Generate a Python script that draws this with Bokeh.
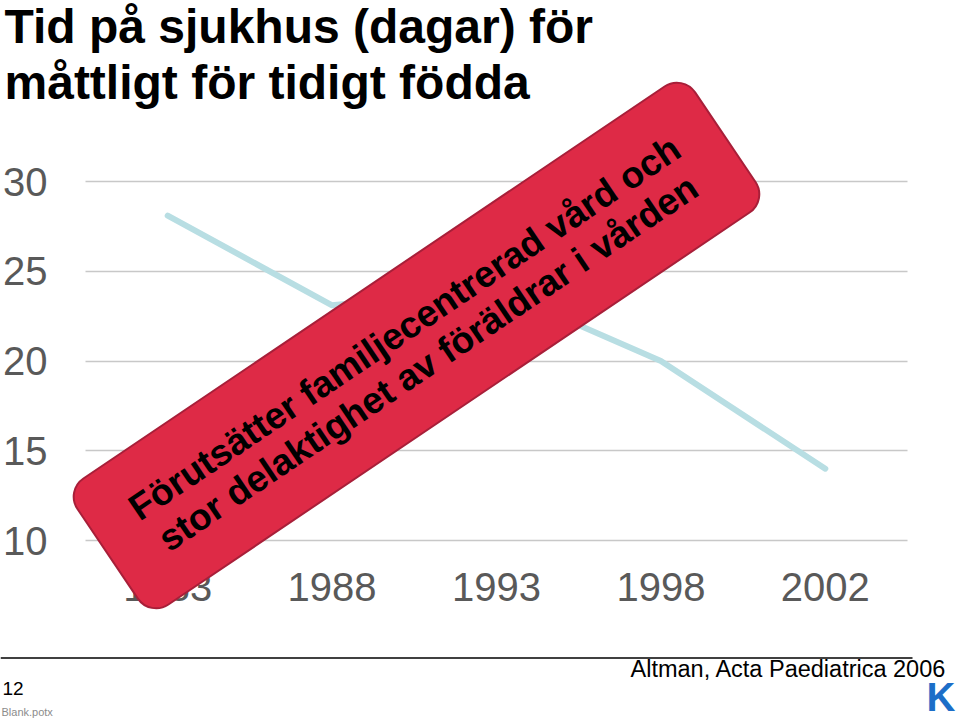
import math
from bokeh.plotting import figure
from bokeh.layouts import column
from bokeh.models import Range1d, FixedTicker, Label, ColumnDataSource
from bokeh.embed import file_html
from bokeh.resources import INLINE
from bokeh.core.properties import value

# ---------------- data ----------------
years = ["1983", "1988", "1993", "1998", "2002"]
days = [28.1, 23.1, 24.0, 20.0, 14.0]
y_ticks = [10, 15, 20, 25, 30]
title_lines = ["Tid på sjukhus (dagar) för", "måttligt för tidigt födda"]
note_lines = ["Förutsätter familjecentrerad vård och",
              "stor delaktighet av föräldrar i vården"]
source_text = "Altman, Acta Paediatrica 2006"
slide_number = "12"
template_name = "Blank.potx"
logo_text = "K"

FONT = "Liberation Sans"

# ---------------- geometry (pixels from the page's top-left) ----------------
W = 960
H_MAIN = 640
H_FOOT = 80
PX0 = 85.0          # left edge of first category band
PX_PER_CAT = 164.4  # width of one category band
PY30 = 181.0        # pixel row of the value 30
PY_PER_UNIT = 17.95
BASE_SHIFT = 0.37   # label anchor vs. alphabetic baseline (em)


def px2x(px):
    return (px - PX0) / PX_PER_CAT - 0.5


def py2y(py):
    return 30 - (py - PY30) / PY_PER_UNIT


x_lo, x_hi = px2x(0), px2x(W)
y_lo, y_hi = py2y(H_MAIN), py2y(0)

p = figure(width=W, height=H_MAIN,
           x_range=Range1d(x_lo, x_hi), y_range=Range1d(y_lo, y_hi),
           output_backend="svg", toolbar_location=None)
p.min_border = 0
p.min_border_left = 0
p.min_border_right = 0
p.min_border_top = 0
p.min_border_bottom = 0
p.outline_line_color = None
p.background_fill_color = "white"
p.border_fill_color = "white"

# axes
p.xaxis.ticker = FixedTicker(ticks=list(range(len(years))))
p.xaxis.major_label_overrides = {i: y for i, y in enumerate(years)}
p.yaxis.ticker = FixedTicker(ticks=y_ticks)
for ax in (p.xaxis[0], p.yaxis[0]):
    ax.axis_line_color = None
    ax.major_tick_line_color = None
    ax.minor_tick_line_color = None
    ax.major_tick_out = 0
    ax.major_tick_in = 0
    ax.minor_tick_out = 0
    ax.minor_tick_in = 0
    ax.major_label_text_font = FONT
    ax.major_label_text_color = "#595959"
p.yaxis.major_label_text_font_size = "40px"
p.yaxis.major_label_standoff = -47
p.xaxis.major_label_text_font_size = "40px"
p.xaxis.major_label_standoff = -68

# grid
p.xgrid.visible = False
p.ygrid.grid_line_color = "#C8C8C8"
p.ygrid.grid_line_width = 1.3
try:
    p.ygrid.cross_bounds = (px2x(85), px2x(907))
except Exception:
    p.ygrid.visible = False
    p.segment(x0=[px2x(85)] * len(y_ticks), y0=y_ticks,
              x1=[px2x(907)] * len(y_ticks), y1=y_ticks,
              line_color="#C8C8C8", line_width=1.3, level="underlay")

# data line
src = ColumnDataSource(dict(x=list(range(len(years))), y=days))
p.line("x", "y", source=src, line_color="#B8DEE3", line_width=6,
       line_cap="round", line_join="round")

# red rotated note box
theta = 34.0
cx_px, cy_px = 416.0, 345.0
p.rect(x=[px2x(cx_px)], y=[py2y(cy_px)], width=745, height=152,
       width_units="screen", height_units="screen",
       angle=theta, angle_units="deg", border_radius=22,
       fill_color="#DE2A46", line_color="#A81F39", line_width=2,
       level="overlay")
vx, vy = math.sin(math.radians(theta)), math.cos(math.radians(theta))
d = 21.0
tx = [px2x(cx_px - d * vx), px2x(cx_px + d * vx)]
ty = [py2y(cy_px - d * vy), py2y(cy_px + d * vy)]
p.text(x=tx, y=ty, text=note_lines, angle=theta, angle_units="deg",
       text_font=value(FONT), text_font_style="bold", text_font_size="37px",
       text_color="black", text_align="center", text_baseline="middle",
       level="overlay")

# title
TSIZE = 48
for line, base in zip(title_lines, (44, 100)):
    p.add_layout(Label(x=px2x(4), y=py2y(base - BASE_SHIFT * TSIZE), text=line,
                       text_font=FONT, text_font_style="bold",
                       text_font_size=f"{TSIZE}px", text_color="black",
                       text_align="left", text_baseline="alphabetic"))

# ---------------- footer ----------------
f = figure(width=W, height=H_FOOT, x_range=Range1d(0, W),
           y_range=Range1d(H_MAIN + H_FOOT, H_MAIN),
           output_backend="svg", toolbar_location=None,
           x_axis_location=None, y_axis_location=None)
f.min_border = 0
f.min_border_left = 0
f.min_border_right = 0
f.min_border_top = 0
f.min_border_bottom = 0
f.outline_line_color = None
f.grid.visible = False
f.segment(x0=[0], y0=[657.5], x1=[912], y1=[657.5],
          line_color="black", line_width=1.5)


def foot_label(x, base, text, size, color="black", style="normal"):
    f.add_layout(Label(x=x, y=base - BASE_SHIFT * size, text=text,
                       text_font=FONT, text_font_style=style,
                       text_font_size=f"{size}px", text_color=color,
                       text_baseline="alphabetic"))


foot_label(2, 695, slide_number, 19)
foot_label(1, 716, template_name, 11, color="#8C8C8C")
foot_label(630, 677, source_text, 23.5)
foot_label(926, 711, logo_text, 40, color="#1C6EC8", style="bold")

layout = column(p, f, spacing=0)
open("out.html", "w").write(file_html(layout, INLINE))
